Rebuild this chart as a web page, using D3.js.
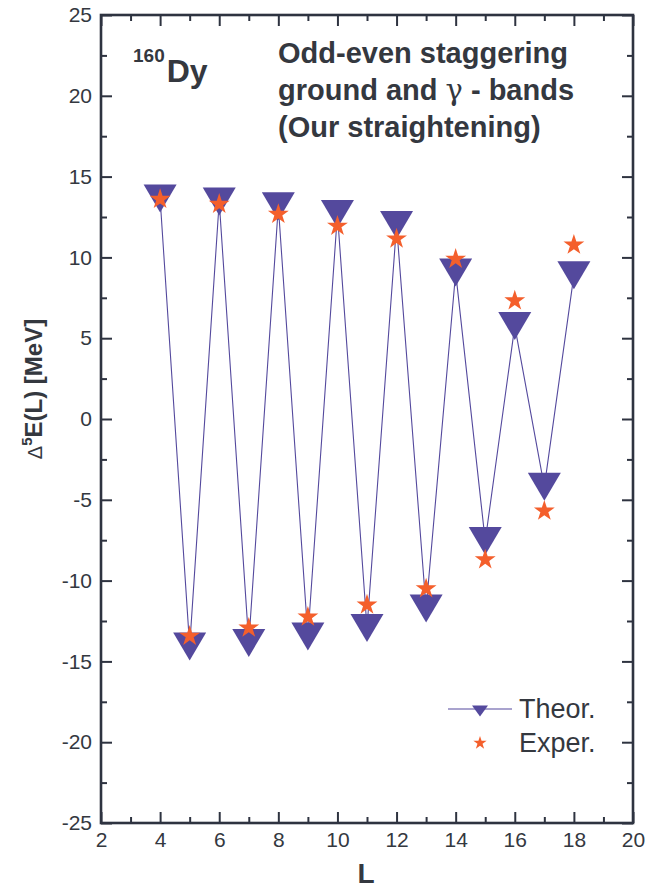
<!DOCTYPE html>
<html>
<head>
<meta charset="utf-8">
<script src="https://cdn.jsdelivr.net/npm/d3@7"></script>
<style>
  body { margin: 0; background: #fff; }
  svg { display: block; font-family: "Liberation Sans", Arial, sans-serif; }
</style>
</head>
<body>
<div id="chart"></div>
<script>
// data
var spins = [4, 5, 6, 7, 8, 9, 10, 11, 12, 13, 14, 15, 16, 17, 18]
var theor = [13.64, -14.08, 13.46, -13.86, 13.16, -13.46, 12.69, -12.93, 12.0, -11.73, 9.07, -7.55, 5.75, -4.2, 8.9]
var exper = [13.6, -13.43, 13.3, -12.93, 12.67, -12.25, 11.94, -11.5, 11.15, -10.5, 9.9, -8.7, 7.32, -5.69, 10.77]
var xMajor = [2, 4, 6, 8, 10, 12, 14, 16, 18, 20]
var xMinor = [3, 5, 7, 9, 11, 13, 15, 17, 19]
var yMajor = [-25, -20, -15, -10, -5, 0, 5, 10, 15, 20, 25]
var yMinor = [-22.5, -17.5, -12.5, -7.5, -2.5, 2.5, 7.5, 12.5, 17.5, 22.5]

var axisCol = "#2e3340", textCol = "#34383f"
var purple = "#54499d", orange = "#f45f2c"

var margin = {top: 15, right: 30, bottom: 65, left: 101},
    width = 663 - margin.left - margin.right,
    height = 888 - margin.top - margin.bottom;

var root = d3.select("#chart")
  .append("svg")
    .attr("width", 663)
    .attr("height", 888)
var svg = root.append("g")
    .attr("transform", "translate(" + margin.left + "," + margin.top + ")");

var x = d3.scaleLinear().domain([2, 20]).range([0, width])
var y = d3.scaleLinear().domain([-25, 25]).range([height, 0])

// plain hyphen minus like the original
var fmt = function(d) { return String(d) }

// axes, ticks pointing inwards
function styleAxis(g) {
  g.select(".domain").remove()
  g.selectAll(".tick line").attr("stroke", axisCol).attr("stroke-width", 2)
  g.selectAll(".tick text").attr("fill", textCol).style("font-size", "21px")
}
svg.append("g").attr("transform", "translate(0," + height + ")")
  .call(d3.axisBottom(x).tickValues(xMajor).tickSize(-11).tickPadding(9).tickFormat(fmt))
  .call(styleAxis)
svg.append("g").attr("transform", "translate(0," + height + ")")
  .call(d3.axisBottom(x).tickValues(xMinor).tickSize(-6).tickFormat(""))
  .call(styleAxis)
svg.append("g")
  .call(d3.axisTop(x).tickValues(xMajor).tickSize(-11).tickFormat(""))
  .call(styleAxis)
svg.append("g")
  .call(d3.axisTop(x).tickValues(xMinor).tickSize(-6).tickFormat(""))
  .call(styleAxis)
svg.append("g")
  .call(d3.axisLeft(y).tickValues(yMajor).tickSize(-11).tickPadding(9).tickFormat(fmt))
  .call(styleAxis)
svg.append("g")
  .call(d3.axisLeft(y).tickValues(yMinor).tickSize(-6).tickFormat(""))
  .call(styleAxis)
svg.append("g").attr("transform", "translate(" + width + ",0)")
  .call(d3.axisRight(y).tickValues(yMajor).tickSize(-11).tickFormat(""))
  .call(styleAxis)
svg.append("g").attr("transform", "translate(" + width + ",0)")
  .call(d3.axisRight(y).tickValues(yMinor).tickSize(-6).tickFormat(""))
  .call(styleAxis)

// frame
svg.append("rect")
  .attr("width", width).attr("height", height)
  .attr("fill", "none").attr("stroke", axisCol).attr("stroke-width", 2.6)

// theory line
var pts = spins.map(function(d, i) { return [d, theor[i]] })
svg.append("path")
  .datum(pts)
  .attr("fill", "none")
  .attr("stroke", purple)
  .attr("stroke-width", 1.1)
  .attr("d", d3.line().x(function(d) { return x(d[0]) }).y(function(d) { return y(d[1]) }))

// down triangles
svg.selectAll("tri")
  .data(pts)
  .enter()
  .append("path")
    .attr("transform", function(d) { return "translate(" + x(d[0]) + "," + y(d[1]) + ")" })
    .attr("d", "M-16.5,-14L16.5,-14L0,14Z")
    .attr("fill", purple)

// stars
var star = d3.symbol().type(d3.symbolStar).size(135)
svg.selectAll("star")
  .data(spins.map(function(d, i) { return [d, exper[i]] }))
  .enter()
  .append("path")
    .attr("transform", function(d) { return "translate(" + x(d[0]) + "," + y(d[1]) + ")" })
    .attr("d", star)
    .attr("fill", orange)

// legend
root.append("line").attr("x1", 448).attr("x2", 512).attr("y1", 709).attr("y2", 709)
  .attr("stroke", purple).attr("stroke-width", 1.1)
root.append("path").attr("transform", "translate(480,711)")
  .attr("d", "M-8,-5.5L8,-5.5L0,5.5Z").attr("fill", purple)
root.append("path").attr("transform", "translate(480,743)")
  .attr("d", d3.symbol().type(d3.symbolStar).size(55)).attr("fill", orange)
root.append("text").attr("x", 519).attr("y", 718).attr("fill", textCol)
  .style("font-size", "27px").text("Theor.")
root.append("text").attr("x", 519).attr("y", 752).attr("fill", textCol)
  .style("font-size", "27px").text("Exper.")

// axis titles
root.append("text").attr("x", 366).attr("y", 883).attr("text-anchor", "middle")
  .attr("fill", textCol).style("font-size", "28px").style("font-weight", "bold").text("L")
var yl = root.append("text").attr("transform", "translate(42,389) rotate(-90)")
  .attr("text-anchor", "middle").attr("fill", textCol)
  .style("font-size", "24px").style("font-weight", "bold")
yl.append("tspan").style("font-weight", "normal").style("font-size", "20px").text("\u0394")
yl.append("tspan").attr("dy", -10).style("font-size", "15px").text("5")
yl.append("tspan").attr("dy", 10).text("E(L) [MeV]")

// nucleus label
var nuc = root.append("text").attr("x", 133).attr("y", 82).attr("fill", textCol)
  .style("font-weight", "bold")
nuc.append("tspan").attr("dy", -20).style("font-size", "19px").text("160")
nuc.append("tspan").attr("dy", 20).attr("dx", 2).style("font-size", "32px").text("Dy")

// title block
var title = ["Odd-even staggering", null, "(Our straightening)"]
root.append("text").attr("x", 278).attr("y", 63).attr("fill", textCol)
  .style("font-size", "29px").style("font-weight", "bold").text(title[0])
var t2 = root.append("text").attr("x", 278).attr("y", 100).attr("fill", textCol)
  .style("font-size", "29px").style("font-weight", "bold")
t2.append("tspan").text("ground and ")
t2.append("tspan").style("font-weight", "normal").style("font-family", "'DejaVu Serif', serif").text("\u03b3")
t2.append("tspan").text(" - bands")
root.append("text").attr("x", 278).attr("y", 137).attr("fill", textCol)
  .style("font-size", "29px").style("font-weight", "bold").text(title[2])
</script>
</body>
</html>
